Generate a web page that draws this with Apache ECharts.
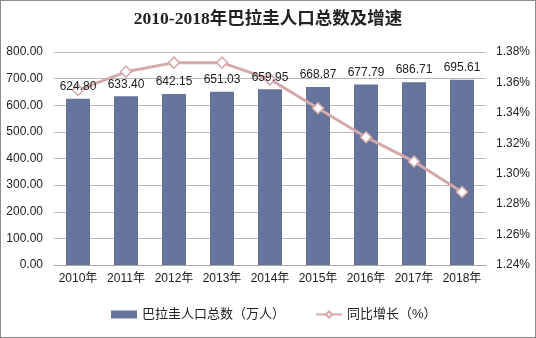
<!DOCTYPE html>
<html>
<head>
<meta charset="utf-8">
<script src="https://cdn.jsdelivr.net/npm/echarts@6/dist/echarts.min.js"></script>
<style>
  html, body { margin: 0; padding: 0; background: #fff; }
  #frame { width: 536px; height: 338px; box-sizing: border-box; border: 1px solid #8c8c8c; position: relative; }
  #chart { position: absolute; left: -1px; top: -1px; width: 536px; height: 338px; }
</style>
</head>
<body>
<div id="frame"><div id="chart"></div></div>
<script>
// Paraguay population (10k persons) and year-on-year growth (%)
const years = ['2010年', '2011年', '2012年', '2013年', '2014年', '2015年', '2016年', '2017年', '2018年'];
const population = [624.80, 633.40, 642.15, 651.03, 659.95, 668.87, 677.79, 686.71, 695.61];
const growth = [1.355, 1.367, 1.373, 1.373, 1.362, 1.343, 1.324, 1.308, 1.288];

const chart = echarts.init(document.getElementById('chart'), null, { renderer: 'canvas' });

const sans = 'Liberation Sans, Arial, "Noto Sans CJK SC", sans-serif';
const barLabel = {
  show: true,
  position: 'top',
  distance: 6,
  fontFamily: sans,
  fontSize: 12,
  color: '#222',
  formatter: p => p.value.toFixed(2)
};

chart.setOption({
  animation: false,
  title: {
    text: '2010-2018年巴拉圭人口总数及增速',
    left: 'center',
    top: 6,
    textStyle: {
      fontFamily: '"Liberation Serif", "DejaVu Serif", "Noto Sans CJK SC", serif',
      fontSize: 17.5,
      fontWeight: 'bold',
      color: '#222'
    }
  },
  legend: {
    bottom: 12,
    left: 106,
    itemGap: 30,
    itemWidth: 26,
    itemHeight: 8,
    textStyle: { fontFamily: sans, fontSize: 13, color: '#222' },
    data: [
      { name: '巴拉圭人口总数（万人）', icon: 'rect', itemStyle: { color: '#66739A' } },
      { name: '同比增长（%）' }
    ]
  },
  grid: { left: 54, right: 50, top: 52, bottom: 73 },
  xAxis: {
    type: 'category',
    data: years,
    axisLine: { lineStyle: { color: '#a6a6a6' } },
    axisTick: { show: false },
    axisLabel: { interval: 0, fontFamily: sans, fontSize: 12, color: '#222', margin: 8 }
  },
  yAxis: [
    {
      type: 'value',
      min: 0,
      max: 800,
      interval: 100,
      axisLine: { show: false },
      axisTick: { show: false },
      splitLine: { lineStyle: { color: '#b8b8b8' } },
      axisLabel: {
        fontFamily: sans, fontSize: 12, color: '#222', margin: 11,
        formatter: v => v.toFixed(2)
      }
    },
    {
      type: 'value',
      min: 1.24,
      max: 1.38,
      interval: 0.02,
      axisLine: { show: false },
      axisTick: { show: false },
      splitLine: { show: false },
      axisLabel: {
        fontFamily: sans, fontSize: 12, color: '#222', margin: 10,
        formatter: v => v.toFixed(2) + '%'
      }
    }
  ],
  series: [
    {
      name: '巴拉圭人口总数（万人）',
      type: 'bar',
      data: population,
      barWidth: '50%',
      itemStyle: { color: '#66739A' },
      z: 2
    },
    {
      name: '同比增长（%）',
      type: 'line',
      yAxisIndex: 1,
      data: growth,
      symbol: 'diamond',
      symbolSize: 11,
      lineStyle: { color: '#D4A9A9', width: 3 },
      itemStyle: { color: '#ffffff', borderColor: '#D4A9A9', borderWidth: 1.5 },
      z: 3
    },
    {
      // value labels kept above the growth line
      name: 'population-labels',
      type: 'bar',
      data: population,
      barWidth: '50%',
      barGap: '-100%',
      itemStyle: { color: 'rgba(0,0,0,0)' },
      label: barLabel,
      silent: true,
      z: 5
    }
  ]
});
</script>
</body>
</html>
